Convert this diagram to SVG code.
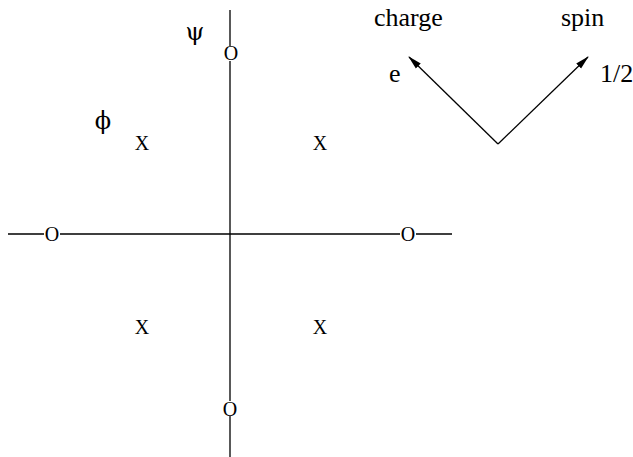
<svg xmlns="http://www.w3.org/2000/svg" width="633" height="457" viewBox="0 0 633 457">
<style>
text{font-family:"Liberation Serif","Times New Roman",serif;font-size:20px;fill:#000}
.c{text-anchor:middle}
.g{font-family:"DejaVu Serif",serif;font-size:24px}
.l{font-size:26px}
.ax{stroke:#000;stroke-width:1.3;fill:none}
</style>
<defs>
<marker id="ah" markerWidth="14" markerHeight="8" refX="13" refY="4" orient="auto" markerUnits="userSpaceOnUse">
<path d="M0,0.5 L14,4 L0,7.5 Z" fill="#000"/>
</marker>
</defs>
<rect width="633" height="457" fill="#fff"/>
<g id="connectors">
<path class="ax" d="M230,10 V46 M230,61 V401 M230,416 V457"/>
<path class="ax" d="M8,234 H44 M60,234 H400 M416,234 H452"/>
<path class="ax" d="M498,144 L409,57" marker-end="url(#ah)"/>
<path class="ax" d="M498,144 L588,57" marker-end="url(#ah)"/>
</g>
<g id="o-top"><text class="c" x="231" y="60">O</text></g>
<g id="o-left"><text class="c" x="52" y="241">O</text></g>
<g id="o-right"><text class="c" x="408" y="241">O</text></g>
<g id="o-bottom"><text class="c" x="230" y="416">O</text></g>
<g id="x-tl"><text class="c" x="142" y="150">X</text></g>
<g id="x-tr"><text class="c" x="320" y="150">X</text></g>
<g id="x-bl"><text class="c" x="142" y="334">X</text></g>
<g id="x-br"><text class="c" x="320" y="334">X</text></g>
<g id="psi"><text class="c g" x="195" y="40">ψ</text></g>
<g id="phi"><text class="c g" x="103" y="129">ϕ</text></g>
<g id="charge"><text class="l" x="374" y="26">charge</text></g>
<g id="spin"><text class="l" x="561" y="26">spin</text></g>
<g id="e"><text class="l" x="389" y="82">e</text></g>
<g id="half"><text class="l" x="600" y="82">1/2</text></g>
</svg>
